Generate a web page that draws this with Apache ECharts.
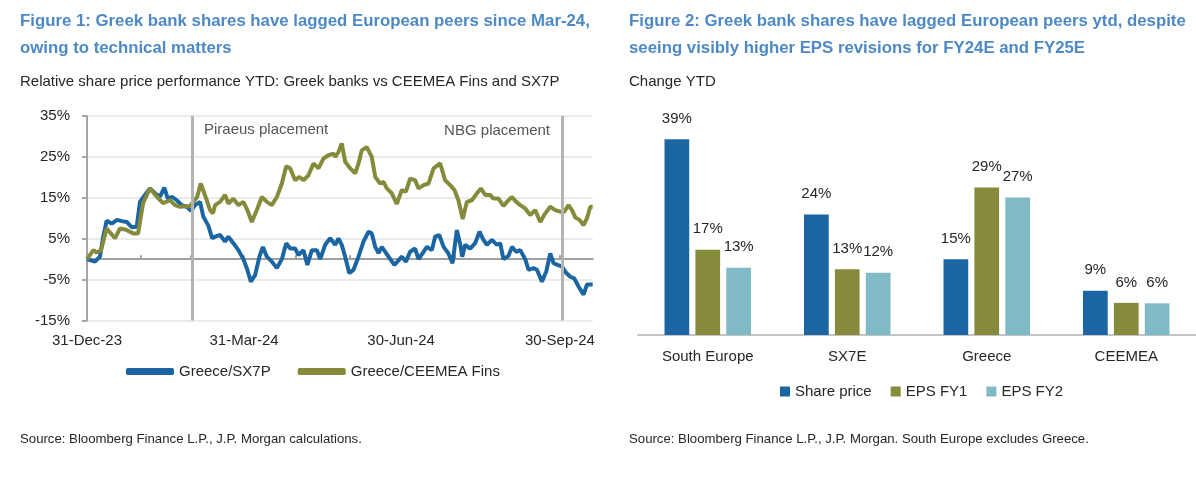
<!DOCTYPE html>
<html><head><meta charset="utf-8">
<script src="https://cdn.jsdelivr.net/npm/echarts@6/dist/echarts.min.js"></script>
<style>html,body{margin:0;padding:0;background:#fff}#c{width:1196px;height:478px}</style>
</head><body><div id="c"></div>
<script>
// ---- Figure 1 data (x = days since 31-Dec-23, y = % relative performance)
const blueDays = [0,4.6,7.5,9.4,11.4,14.3,17.4,20.1,23.0,25.9,28.8,30.7,33.6,36.5,39.4,42.3,44.8,46.8,49.5,52.0,54.9,57.8,60.3,62.6,65.5,67.4,70.3,72.5,74.2,77.1,80.0,81.9,84.8,87.7,90.6,92.9,94.9,97.4,99.9,101.9,104.2,107.1,110.0,112.9,115.4,117.7,120.6,122.5,125.4,127.7,130.3,133.2,135.1,138.0,140.9,143.8,145.7,147.6,149.6,151.9,154.4,157.3,160.2,163.1,165.0,167.0,168.9,170.8,172.8,175.7,178.1,180.5,182.4,184.8,187.2,190.1,192.1,194.4,196.9,199.8,201.7,204.1,206.6,209.4,211.8,214.3,216.2,217.4,219.1,222.0,224.9,227.4,229.7,231.7,234.6,237.5,239.4,241.3,244.2,246.2,248.7,251.0,253.9,255.8,258.7,260.7,263.6,266.1,268.4,270.3,272.6,275.2,277.7,280.0,282.3,284.8,287.7,289.7,293];
const blueVals = [0,-0.6,0.6,5.5,9.4,8.7,9.6,9.3,9.1,7.8,7.9,14,15.7,17.3,16.1,15.3,17.5,14.8,15.2,14.4,13.2,12.8,11.8,13.2,14,10.4,8.2,5.1,5.5,5.9,4.3,5.5,3.9,2.2,0,-2.6,-5.5,-3.9,0.6,3,0.6,-0.6,-2.2,0,3.9,2.6,2.6,1,2.2,-1.4,2.2,2.2,0,3.5,5.1,3.5,5.1,3.5,0.6,-3.4,-2.6,0.6,4.3,6.7,6.3,3,1.5,3,1.8,0,-1.4,-0.3,0.6,-0.6,1.8,2.6,0,1.4,3,2.2,5.5,5.9,3,1.4,-1,7.1,3.7,0.6,3.5,2.6,3.9,6.7,4.7,3.5,4.7,3.5,3.9,0,0.8,3,1.8,2.2,0,-2.6,-2.2,-2.6,-5.5,-3,1.4,-1,-1.4,-1.8,-3.4,-4.3,-4.7,-6.7,-8.7,-6.2,-6.2];
const greenDays = [0,3.7,5.6,8.1,11.4,16.2,19.1,22.6,26.7,29.6,32.5,36.5,40.6,44.1,48.1,51.0,53.9,59.7,63.8,65.9,69.4,71.3,73.0,74.2,77.1,80.0,81.9,84.8,87.7,90.6,92.9,95.5,98.4,101.3,104.2,107.1,110.0,112.9,115.4,117.7,120.6,123.1,125.4,128.3,131.2,134.1,137.0,139.9,142.8,143.8,145.7,147.6,149.6,152.5,155.4,157.3,159.2,162.1,165.0,167.0,169.9,171.8,173.7,176.6,179.5,182.4,184.8,187.2,190.1,192.1,195.0,197.9,200.8,204.6,207.5,210.4,212.9,215.2,217.7,220.1,223.0,225.9,228.2,230.7,233.6,235.5,238.4,241.3,243.3,246.2,248.7,251.0,253.9,256.8,259.7,262.6,265.5,268.4,271.3,274.2,276.5,279.0,281.0,282.9,285.4,287.7,289.7,291.6,293];
const greenVals = [0,2.2,1.6,2.2,7.5,5.1,7.5,7.2,6.3,6.3,13.7,17.3,15.2,13.7,14.4,13.2,12.8,13,15.2,18.5,14.4,12,11.2,13.2,14,15.7,13.6,14.8,13.2,14,12,9.1,12,15.2,14,13.2,15.2,18.5,22.7,22.2,19.3,20.1,19.3,20.5,23.4,22.2,24.6,25.4,25.8,25,26.2,28.3,23.8,22.2,21,23.4,26.6,27.4,25,20.1,18.5,18.9,17.3,16.1,13.5,16.9,16.5,19.7,19.3,17.3,18.1,18.5,22.2,23.4,19.3,18.1,16.9,14.4,9.8,14,14.4,16.1,17.3,15.7,15.7,14.8,14.8,13,14,15.2,14,13.2,12.4,10.8,12,9.1,11.2,12.8,12,11.6,11.6,13.2,12,10.2,9.6,8.3,10,12.8,12.8];
const seriesNames1 = ['Greece/SX7P','Greece/CEEMEA Fins'];
const xLabelDays = [0,91,182,274];
const xLabelTexts = ['31-Dec-23','31-Mar-24','30-Jun-24','30-Sep-24'];
const monthTickDays = [0,31,60,91,121,152,182,213,244,274];
const placementDays = [61,275.5];
const placementTexts = ['Piraeus placement','NBG placement'];

// ---- Figure 2 data (% change YTD)
const categories2 = ['South Europe','SX7E','Greece','CEEMEA'];
const sharePrice = [39,24,15.1,8.8];
const epsFY1 = [17,13.1,29.4,6.4];
const epsFY2 = [13.4,12.4,27.4,6.3];
const seriesNames2 = ['Share price','EPS FY1','EPS FY2'];

const FONT = '"Liberation Sans",Arial,sans-serif';
const FS = 15;
const TXT = '#262626';
const BLUE = '#1b66a2', OLIVE = '#858b3b', LIGHT = '#80bac6';
const TITLE = '#4d89c4';

const chart = echarts.init(document.getElementById('c'), null, {renderer:'canvas'});
const zip = (a,b)=>a.map((d,i)=>[d,b[i]]);

chart.setOption({
  animation:false,
  textStyle:{fontFamily:FONT},
  graphic:[
    {type:'text', left:20, top:8, style:{text:'Figure 1: Greek bank shares have lagged European peers since Mar-24,\nowing to technical matters', fontFamily:FONT, fontWeight:'bold', fontSize:16.8, lineHeight:27, fill:TITLE}},
    {type:'text', left:20, top:74, style:{text:'Relative share price performance YTD: Greek banks vs CEEMEA Fins and SX7P', fontFamily:FONT, fontSize:FS, fill:TXT}},
    {type:'text', left:629, top:8, style:{text:'Figure 2: Greek bank shares have lagged European peers ytd, despite\nseeing visibly higher EPS revisions for FY24E and FY25E', fontFamily:FONT, fontWeight:'bold', fontSize:16.8, lineHeight:27, fill:TITLE}},
    {type:'text', left:629, top:74, style:{text:'Change YTD', fontFamily:FONT, fontSize:FS, fill:TXT}},
    {type:'text', left:20, top:433, style:{text:'Source: Bloomberg Finance L.P., J.P. Morgan calculations.', fontFamily:FONT, fontSize:13.2, fill:TXT}},
    {type:'text', left:629, top:433, style:{text:'Source: Bloomberg Finance L.P., J.P. Morgan. South Europe excludes Greece.', fontFamily:FONT, fontSize:13.2, fill:TXT}},
    {type:'text', left:204, top:122, style:{text:placementTexts[0], fontFamily:FONT, fontSize:FS, fill:'#555'}},
    {type:'text', right:1196-550, top:123, style:{text:placementTexts[1], fontFamily:FONT, fontSize:FS, fill:'#555', align:'right'}}
  ],
  grid:[
    {left:87, top:116, width:505.7, height:204.5},
    {left:638, top:134.2, width:562.8, height:200.8}
  ],
  legend:[
    {data:seriesNames1, left:121, top:359, icon:'roundRect', itemWidth:48, itemHeight:7, itemGap:27,
     textStyle:{fontSize:FS, fontFamily:FONT, color:TXT}},
    {data:seriesNames2, left:775, top:379, icon:'rect', itemWidth:10, itemHeight:10, itemGap:19,
     textStyle:{fontSize:FS, fontFamily:FONT, color:TXT}}
  ],
  xAxis:[
    {type:'value', gridIndex:0, min:0, max:293, axisLine:{show:false, onZero:false}, axisTick:{show:false}, splitLine:{show:false},
     axisLabel:{customValues:xLabelDays, formatter:v=>xLabelTexts[xLabelDays.indexOf(v)]||'', margin:13, fontSize:FS, color:TXT, fontFamily:FONT}},
    {type:'value', gridIndex:0, min:0, max:293, position:'bottom', axisLine:{onZero:true, lineStyle:{color:'#a0a0a0', width:2}},
     axisTick:{show:true, inside:true, length:4, customValues:monthTickDays, lineStyle:{color:'#a0a0a0', width:2}},
     axisLabel:{show:false}, splitLine:{show:false}},
    {type:'category', gridIndex:1, data:categories2,
     axisLine:{lineStyle:{color:'#c4c4c4', width:2}}, axisTick:{length:5, lineStyle:{color:'#c4c4c4', width:2}},
     axisLabel:{interval:0, margin:14, fontSize:FS, color:TXT, fontFamily:FONT}}
  ],
  yAxis:[
    {type:'value', gridIndex:0, min:-15, max:35, interval:10,
     axisLine:{show:true, onZero:false, lineStyle:{color:'#a6a6a6', width:2}},
     axisTick:{show:true, length:5, lineStyle:{color:'#a6a6a6', width:2}},
     axisLabel:{formatter:'{value}%', margin:17, fontSize:FS, color:TXT, fontFamily:FONT},
     splitLine:{lineStyle:{color:'#ebebeb', width:2}}},
    {type:'value', gridIndex:1, min:0, max:40, show:false}
  ],
  series:[
    {type:'line', xAxisIndex:0, yAxisIndex:0, data:[], z:1, silent:true,
     markLine:{silent:true, symbol:['none','none'], label:{show:false}, animation:false,
       lineStyle:{color:'#b3b3b3', width:3, type:'solid'},
       data:placementDays.map(d=>({xAxis:d}))}},
    {name:seriesNames1[0], type:'line', xAxisIndex:0, yAxisIndex:0, data:zip(blueDays,blueVals), showSymbol:false, z:3,
     lineStyle:{color:BLUE, width:4}, itemStyle:{color:BLUE}},
    {name:seriesNames1[1], type:'line', xAxisIndex:0, yAxisIndex:0, data:zip(greenDays,greenVals), showSymbol:false, z:4,
     lineStyle:{color:OLIVE, width:4}, itemStyle:{color:OLIVE}},
    ...[sharePrice, epsFY1, epsFY2].map((vals,i)=>({
      name:seriesNames2[i], type:'bar', xAxisIndex:2, yAxisIndex:1, data:vals,
      barCategoryGap:'38%', barGap:'25%',
      itemStyle:{color:[BLUE,OLIVE,LIGHT][i]},
      label:{show:true, position:'top', distance:13, formatter:p=>Math.round(p.value)+'%', fontSize:FS, color:TXT, fontFamily:FONT}
    }))
  ]
});
</script></body></html>
